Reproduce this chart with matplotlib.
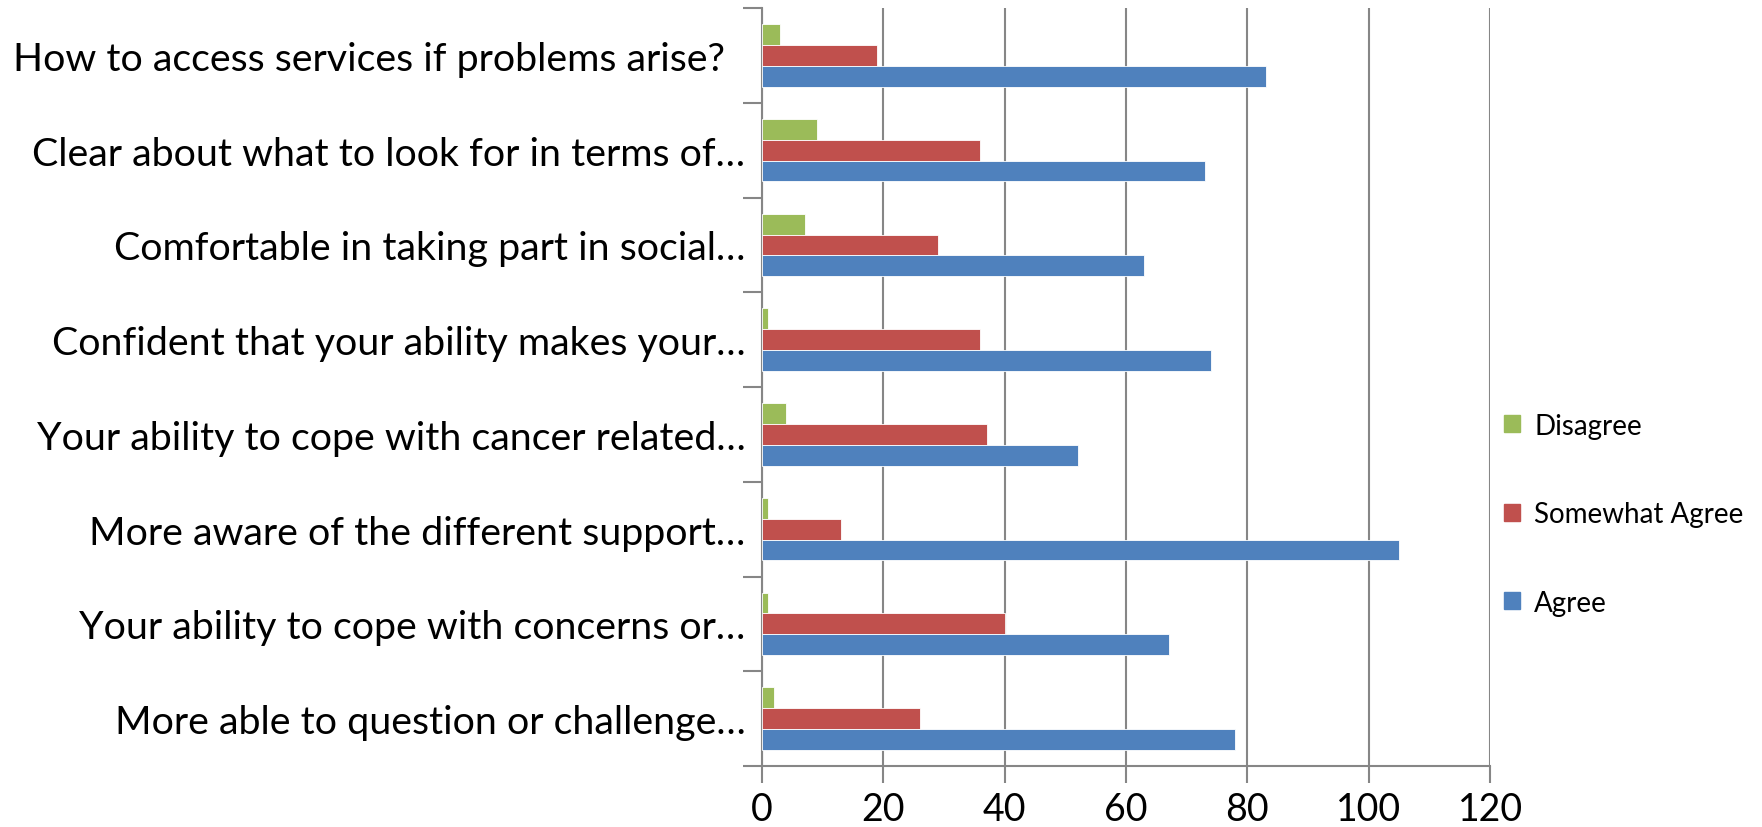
import numpy as np
import matplotlib
matplotlib.use("Agg")
import matplotlib.pyplot as plt
from matplotlib.patches import Patch

plt.rcParams['font.family'] = ['Lato', 'DejaVu Sans']

# survey statements, listed top to bottom as they appear
statements = [
    "How to access services if problems arise?  ",
    "Clear about what to look for in terms of\u2026",
    "Comfortable in taking part in social\u2026",
    "Confident that your ability makes your\u2026",
    "Your ability to cope with cancer related\u2026",
    "More aware of the different support\u2026",
    "Your ability to cope with concerns or\u2026",
    "More able to question or challenge\u2026",
]
disagree = [3, 9, 7, 1, 4, 1, 1, 2]
somewhat_agree = [19, 36, 29, 36, 37, 13, 40, 26]
agree = [83, 73, 63, 74, 52, 105, 67, 78]
x_ticks = [0, 20, 40, 60, 80, 100, 120]

c_agree = "#4F81BD"
c_somewhat = "#C0504D"
c_disagree = "#9BBB59"
grey = "#868686"

fig = plt.figure(figsize=(17.62, 8.28), dpi=100)
ax = fig.add_axes([0.4325, 0.0737, 0.4132, 0.9153])

y = np.arange(len(statements))
h = 0.22
ax.barh(y - h, disagree, height=h, color=c_disagree, edgecolor="white", linewidth=0.6, zorder=3)
ax.barh(y, somewhat_agree, height=h, color=c_somewhat, edgecolor="white", linewidth=0.6, zorder=3)
ax.barh(y + h, agree, height=h, color=c_agree, edgecolor="white", linewidth=0.6, zorder=3)

ax.set_xlim(0, 120)
ax.set_ylim(len(statements) - 0.5, -0.5)
ax.set_xticks(x_ticks)
ax.set_xticklabels([str(v) for v in x_ticks], fontsize=27)
ax.tick_params(axis="x", direction="out", length=12, width=1.5, color=grey, pad=6)

# category labels at centres, tick marks at the boundaries
ax.set_yticks(y)
ax.set_yticklabels(statements, fontsize=28.4)
ax.tick_params(axis="y", which="major", length=0, pad=12)
ax.set_yticks(np.arange(len(statements) + 1) - 0.5, minor=True)
ax.tick_params(axis="y", which="minor", direction="out", length=14, width=1.5, color=grey)

ax.grid(axis="x", color=grey, linewidth=1.5, zorder=0)
ax.set_axisbelow(True)
for side in ["top", "right"]:
    ax.spines[side].set_visible(False)
for side in ["left", "bottom"]:
    ax.spines[side].set_color(grey)
    ax.spines[side].set_linewidth(1.5)

handles = [Patch(color=c_disagree), Patch(color=c_somewhat), Patch(color=c_agree)]
fig.legend(handles, ["Disagree", "Somewhat Agree", "Agree"],
           loc="center left", bbox_to_anchor=(0.8395, 0.378), frameon=False,
           fontsize=20, labelspacing=2.25, handlelength=0.58, handleheight=0.58,
           handletextpad=0.5)

fig.savefig("out.png", dpi=100, facecolor="white")
